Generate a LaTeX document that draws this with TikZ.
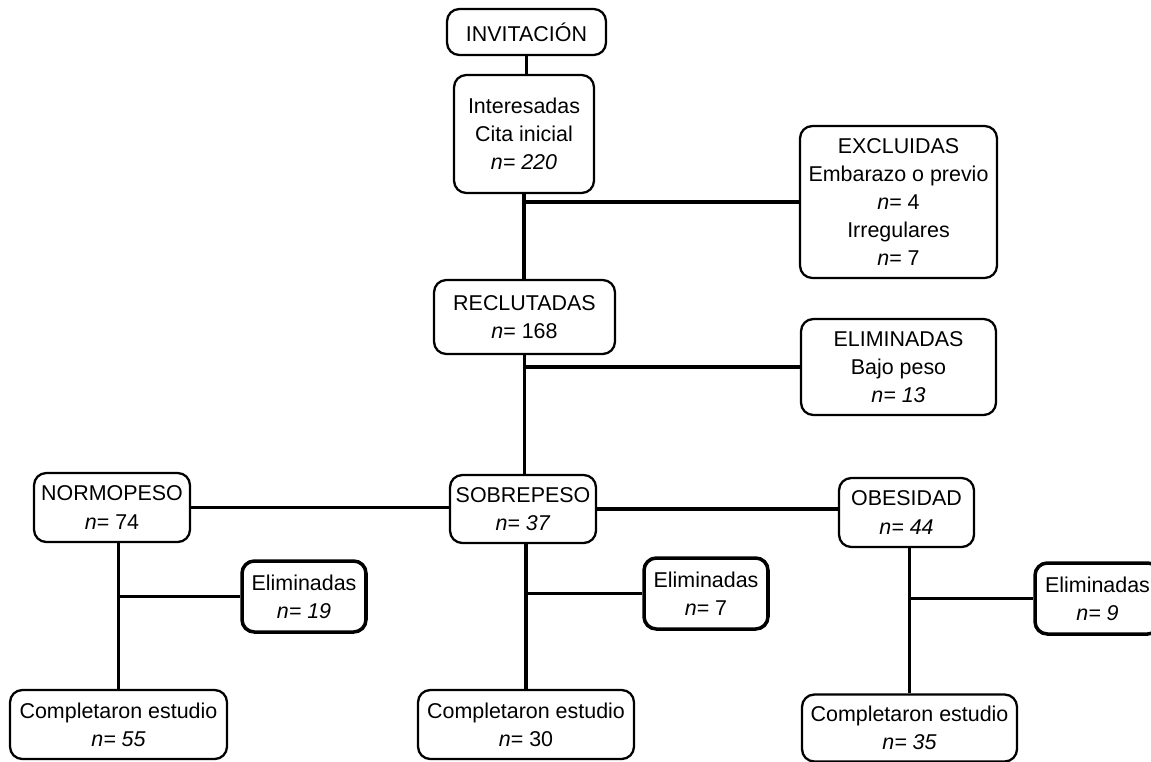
\documentclass[tikz,border=0pt]{standalone}
\usepackage{fontspec}
\setmainfont{Liberation Sans}
\usetikzlibrary{calc}

\begin{document}
\begin{tikzpicture}[x=0.02cm, y=-0.02cm,
  box/.style={draw, line width=1.3pt, rounded corners=7pt, align=center,
    inner sep=0pt, font=\fontsize{12.2}{16}\selectfont},
  elimbox/.style={box, line width=2pt},
  link/.style={line width=2pt}]
  \useasboundingbox (0,0) rectangle (1151,761);

  % Draw the main column
  \node[box, minimum width=3.18cm, minimum height=0.92cm] (inv) at (526.5,32) {INVITACIÓN};
  \node[box, minimum width=2.80cm, minimum height=2.36cm] (inter) at (524,134)
    {Interesadas\\Cita inicial\\\textit{n= 220}};
  \node[box, minimum width=3.62cm, minimum height=1.48cm] (recl) at (524.5,317)
    {RECLUTADAS\\\textit{n}= 168};

  % Draw the side boxes
  \node[box, minimum width=3.94cm, minimum height=3.04cm] (excl) at (898.5,202)
    {EXCLUIDAS\\Embarazo o previo\\\textit{n}= 4\\Irregulares\\\textit{n}= 7};
  \node[box, minimum width=3.90cm, minimum height=1.92cm] (elim) at (898.5,367)
    {ELIMINADAS\\Bajo peso\\\textit{n= 13}};

  % Draw the three groups
  \node[box, minimum width=3.12cm, minimum height=1.38cm] (normo) at (112,507.5)
    {NORMOPESO\\\textit{n}= 74};
  \node[box, minimum width=2.92cm, minimum height=1.36cm] (sobre) at (523,509)
    {SOBREPESO\\\textit{n= 37}};
  \node[box, minimum width=2.70cm, minimum height=1.38cm] (obes) at (906.5,512.5)
    {OBESIDAD\\\textit{n= 44}};

  % Eliminadas per group
  \node[elimbox, minimum width=2.48cm, minimum height=1.42cm] (elimA) at (304,596.5)
    {Eliminadas\\\textit{n= 19}};
  \node[elimbox, minimum width=2.48cm, minimum height=1.42cm] (elimB) at (706,593.5)
    {Eliminadas\\\textit{n}= 7};
  \node[elimbox, minimum width=2.50cm, minimum height=1.42cm] (elimC) at (1097.5,598.5)
    {Eliminadas\\\textit{n= 9}};

  % Completed per group
  \node[box, minimum width=4.34cm, minimum height=1.38cm] (compA) at (118.5,724.5)
    {Completaron estudio\\\textit{n= 55}};
  \node[box, minimum width=4.32cm, minimum height=1.38cm] (compB) at (526,724.5)
    {Completaron estudio\\\textit{n}= 30};
  \node[box, minimum width=4.30cm, minimum height=1.34cm] (compC) at (909.5,728)
    {Completaron estudio\\\textit{n= 35}};

  % Junctions
  \coordinate (j1) at (inter.south |- excl.west);
  \coordinate (j2) at (recl.south |- elim.west);
  \coordinate (jA) at (compA.north |- elimA.west);
  \coordinate (jB) at (compB.north |- elimB.west);
  \coordinate (jC) at (compC.north |- elimC.west);

  % Connectors
  \draw[link] (inv.south) -- (inv.south |- inter.north);
  \draw[link] (inter.south) -- (inter.south |- recl.north);
  \draw[link] (j1) -- (excl.west);
  \draw[link] (recl.south) -- (recl.south |- sobre.north);
  \draw[link] (j2) -- (elim.west);
  \draw[link] (normo.east) -- (normo.east -| sobre.west);
  \draw[link] (sobre.east) -- (sobre.east -| obes.west);
  \draw[link] (compA.north |- normo.south) -- (compA.north);
  \draw[link] (jA) -- (elimA.west);
  \draw[link] (compB.north |- sobre.south) -- (compB.north);
  \draw[link] (jB) -- (elimB.west);
  \draw[link] (compC.north |- obes.south) -- (compC.north);
  \draw[link] (jC) -- (elimC.west);
\end{tikzpicture}
\end{document}
